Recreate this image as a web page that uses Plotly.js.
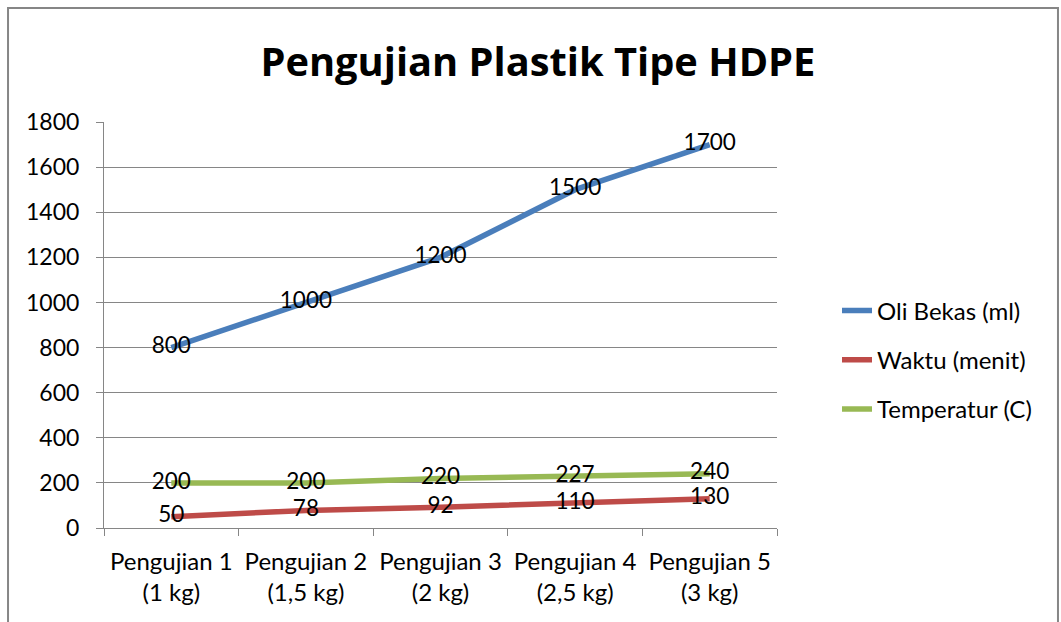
<!DOCTYPE html>
<html><head><meta charset="utf-8">
<script src="https://cdn.plot.ly/plotly-3.0.1.min.js"></script>
<style>html,body{margin:0;padding:0;background:#fff}#chart{width:1061px;height:622px}</style>
</head><body><div id="chart"></div>
<script>
const categories = ["Pengujian 1<br>(1 kg)", "Pengujian 2<br>(1,5 kg)", "Pengujian 3<br>(2 kg)", "Pengujian 4<br>(2,5 kg)", "Pengujian 5<br>(3 kg)"];
const oliBekas = [800, 1000, 1200, 1500, 1700];
const waktu = [50, 78, 92, 110, 130];
const temperatur = [200, 200, 220, 227, 240];
const seriesNames = ["Oli Bekas (ml)", "Waktu (menit)", "Temperatur (C)"];
const colors = ["#4A7EBB", "#BE4B48", "#98B954"];
const FONT = "Lato, 'Liberation Sans', sans-serif";

function mk(y, i) {
  return {
    x: categories, y: y, name: seriesNames[i], type: "scatter", mode: "lines+text",
    legendgroup: "g" + i,
    text: y.map(String), textposition: "middle center",
    textfont: {family: FONT, size: 22.5, color: "#000"},
    line: {color: colors[i], width: 5.5}, cliponaxis: false
  };
}
const data = [mk(oliBekas, 0), mk(waktu, 1), mk(temperatur, 2)];

const layout = {
  width: 1061, height: 622,
  margin: {l: 104, r: 284, t: 122, b: 94},
  paper_bgcolor: "#fff", plot_bgcolor: "#fff",
  font: {family: FONT, size: 23, color: "#000"},
  title: {text: "<b>Pengujian Plastik Tipe HDPE</b>", font: {family: "'Open Sans', " + FONT, size: 39.8, color: "#000"},
          xref: "container", x: 0.507, xanchor: "center", yref: "container", y: 0.9, yanchor: "middle"},
  xaxis: {type: "category", tickson: "boundaries", ticks: "outside", ticklen: 7, tickcolor: "#868686",
          showline: true, linecolor: "#868686", linewidth: 1, showgrid: false, zeroline: false,
          tickfont: {family: FONT, size: 24, color: "#000"}, ticklabelstandoff: 12, range: [-0.5, 4.5], automargin: false},
  yaxis: {range: [0, 1800], dtick: 200, ticks: "outside", ticklen: 7, tickcolor: "#868686",
          showline: true, linecolor: "#868686", linewidth: 1, gridcolor: "#868686", gridwidth: 1,
          zeroline: false, tickfont: {family: FONT, size: 23, color: "#000"}, ticklabelstandoff: 12, automargin: false},
  legend: {x: 837 / 1061, xref: "container", xanchor: "left", y: 0.414, yanchor: "middle",
           font: {family: FONT, size: 24, color: "#000"}, traceorder: "grouped",
           itemwidth: 30, tracegroupgap: 15, bgcolor: "rgba(0,0,0,0)"},
  showlegend: true,
  shapes: [{type: "rect", xref: "paper", yref: "paper", x0: -0.1426, x1: 1.4175, y0: -0.3, y1: 1.2808,
            line: {color: "#868686", width: 2}, fillcolor: "rgba(0,0,0,0)", layer: "below"}]
};
Plotly.newPlot("chart", data, layout, {displayModeBar: false, staticPlot: true});
</script></body></html>
